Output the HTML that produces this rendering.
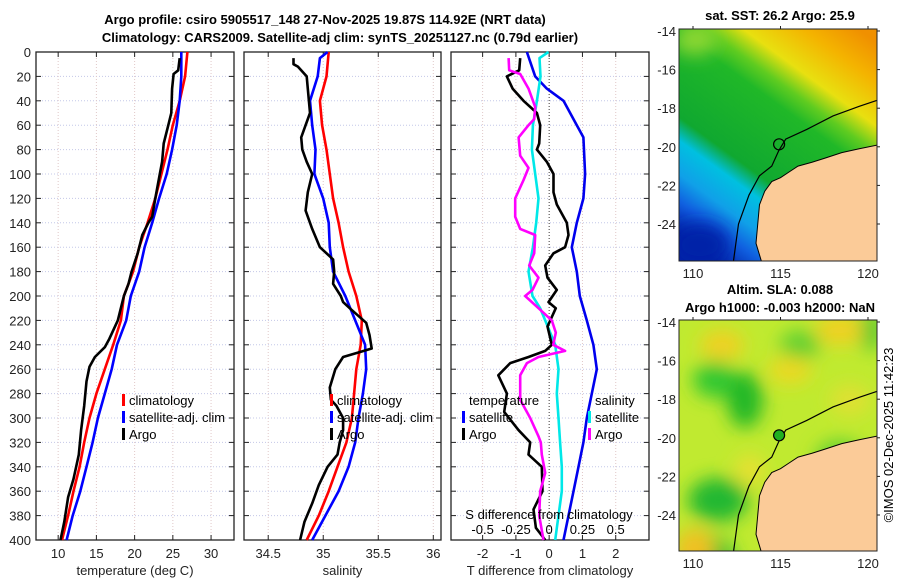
<!DOCTYPE html>
<html><head><meta charset="utf-8"><style>
body{margin:0;background:#fff;width:900px;height:580px;overflow:hidden}
svg{display:block;font-family:"Liberation Sans","DejaVu Sans",sans-serif}
</style></head><body>
<svg id="chart" width="900" height="580" viewBox="0 0 900 580">
<defs>
<linearGradient id="sstg" gradientUnits="userSpaceOnUse" x1="860" y1="30" x2="700" y2="250">
<stop offset="0" stop-color="#f09000"/><stop offset="0.12" stop-color="#f4b400"/><stop offset="0.25" stop-color="#e8e010"/>
<stop offset="0.33" stop-color="#60cc20"/><stop offset="0.4" stop-color="#20b828"/><stop offset="0.65" stop-color="#10a830"/>
<stop offset="0.72" stop-color="#00c0e0"/><stop offset="0.82" stop-color="#10a0e8"/><stop offset="0.9" stop-color="#1060e0"/>
<stop offset="1" stop-color="#0020a8"/></linearGradient>
<filter id="blur"><feGaussianBlur stdDeviation="9"/></filter>
<clipPath id="c1"><rect x="679" y="29" width="198" height="232"/></clipPath>
<clipPath id="c2"><rect x="679" y="320" width="198" height="231"/></clipPath>
</defs>
<g id="titles" font-weight="bold" font-size="13" text-anchor="middle" fill="#000">
<text x="325" y="24">Argo profile: csiro 5905517_148 27-Nov-2025 19.87S 114.92E (NRT data)</text>
<text x="340" y="42">Climatology: CARS2009. Satellite-adj clim: synTS_20251127.nc (0.79d earlier)</text>
<text x="780" y="20">sat. SST: 26.2 Argo: 25.9</text>
<text x="780" y="294">Altim. SLA: 0.088</text>
<text x="780" y="312">Argo h1000: -0.003 h2000: NaN</text>
</g>
<g id="panels"></g>
<g id="maps"></g>
<text transform="translate(893,435) rotate(-90)" font-size="13" text-anchor="middle">©IMOS 02-Dec-2025 11:42:23</text>
</svg>
<script>
// depth tick labels
const depthTicks=[0,20,40,60,80,100,120,140,160,180,200,220,240,260,280,300,320,340,360,380,400];
// panel 1: temperature
const tempTicks=[10,15,20,25,30];
const climTD=[0,20,40,60,80,100,120,140,160,180,200,220,240,260,280,300,320,340,360,380,400];
const climT=[26.9,26.6,25.9,25.0,24.3,23.5,22.7,21.7,20.6,19.8,18.6,18.2,17.2,16.1,15.0,14.1,13.4,12.8,12.0,11.3,10.5];
const satTD=[0,20,40,60,80,100,120,140,160,180,200,220,240,260,280,300,320,340,360,380,400];
const satT=[26.1,26.1,25.9,25.5,24.9,24.2,23.2,22.3,21.3,20.6,19.5,18.9,17.7,17.0,16.1,15.2,14.5,13.7,12.9,11.9,11.1];
const argoTD=[5,15,18,30,50,60,75,90,100,120,135,140,150,165,180,190,200,220,235,242,250,258,270,290,310,330,350,365,385,400];
const argoT=[25.9,25.7,25.1,24.9,24.8,24.4,23.8,23.6,23.3,22.7,22.3,21.8,21.0,20.4,19.6,19.2,18.6,17.8,16.7,16.1,14.8,14.1,13.7,13.4,13.0,12.7,12.0,11.3,10.8,10.3];
// panel 2: salinity
const salTicks=[34.5,35,35.5,36];
const climSD=[0,20,40,60,80,100,120,140,160,180,200,220,240,260,280,300,320,340,360,380,400];
const climS=[35.05,35.03,34.97,34.99,35.03,35.06,35.09,35.14,35.18,35.23,35.30,35.35,35.34,35.30,35.28,35.26,35.21,35.13,35.05,34.96,34.85];
const satSD=[0,5,20,40,60,80,100,110,120,140,160,180,200,220,240,260,280,300,320,340,360,380,400];
const satS=[35.04,34.97,34.95,34.88,34.90,34.93,34.92,34.96,35.00,35.05,35.06,35.09,35.20,35.29,35.38,35.39,35.36,35.32,35.29,35.23,35.14,35.02,34.90];
const argoSD=[5,10,12,20,30,40,50,70,80,90,100,115,130,145,160,170,180,190,200,205,210,222,232,243,246,250,260,275,285,290,300,310,320,330,340,355,370,385,400];
const argoS=[34.73,34.73,34.77,34.85,34.86,34.87,34.88,34.80,34.81,34.85,34.90,34.86,34.84,34.90,34.97,35.09,35.10,35.09,35.16,35.18,35.24,35.39,35.42,35.44,35.33,35.18,35.11,35.06,35.07,35.12,35.18,35.18,35.15,35.13,35.04,34.96,34.90,34.83,34.79];
// panel 3: differences (S diff plotted as S*4)
const tdiffTicks=[-2,-1,0,1,2];
const sdiffLabels=["-0.5","-0.25","0","0.25","0.5"];
const satTdD=[0,20,30,40,60,70,100,120,140,160,180,200,220,240,260,280,300,320,340,360,380,400];
const satTd=[-0.67,-0.42,-0.07,0.43,0.83,1.03,1.08,1.03,0.83,0.68,0.83,0.92,1.13,1.33,1.43,1.28,1.13,1.03,0.88,0.73,0.58,0.43];
const satSdD=[0,5,20,40,60,80,100,120,140,160,180,200,210,220,240,260,280,300,320,340,360,380,400];
const satSd=[-0.02,-0.29,-0.26,-0.37,-0.49,-0.52,-0.42,-0.32,-0.39,-0.49,-0.62,-0.50,-0.27,-0.12,0.18,0.28,0.23,0.28,0.33,0.38,0.38,0.28,0.18];
const argoTdD=[5,15,20,30,40,50,60,75,80,90,100,115,125,140,150,160,165,175,185,195,205,210,225,240,245,250,255,265,280,295,310,320,330,340,360,375,390,400];
const argoTd=[-0.87,-0.9,-1.27,-1.1,-0.77,-0.37,-0.27,-0.3,-0.37,-0.07,0.13,0.13,0.23,0.53,0.58,0.48,0.13,-0.12,-0.05,0.23,-0.02,0.2,-0.05,0.08,-0.12,-0.62,-1.17,-1.53,-1.27,-1.35,-0.92,-0.57,-0.62,-0.22,-0.2,-0.47,-0.4,-0.12];
const argoSdD=[5,15,18,30,45,55,60,70,85,95,105,120,135,145,150,165,175,185,195,200,210,220,230,240,245,250,255,265,285,300,315,320,330,345,360,380,400];
const argoSd=[-1.22,-1.2,-0.87,-0.62,-0.42,-0.45,-0.62,-0.92,-0.87,-0.62,-0.77,-1.02,-1.02,-0.87,-0.42,-0.45,-0.6,-0.32,-0.5,-0.72,-0.32,0.08,0.2,0.12,0.48,-0.32,-0.67,-0.87,-0.87,-0.57,-0.32,-0.25,-0.22,-0.12,-0.27,-0.3,-0.17];

const NS='http://www.w3.org/2000/svg';
function mk(tag,attrs,parent){const e=document.createElementNS(NS,tag);for(const k in attrs)e.setAttribute(k,attrs[k]);parent.appendChild(e);return e;}
const top0=52,bot=540;
const yD=d=>top0+d*(bot-top0)/400;
const P=document.getElementById('panels');
const panels=[
 {x0:36,x1:234,min:7.1,max:33.0,ticks:tempTicks,label:'temperature (deg C)',name:'temperature'},
 {x0:244,x1:441,min:34.28,max:36.07,ticks:salTicks,label:'salinity',name:'salinity'},
 {x0:451,x1:649,min:-2.95,max:3.0,ticks:tdiffTicks,label:'T difference from climatology',name:'difference'}];
panels.forEach(p=>{p.sx=v=>p.x0+(v-p.min)*(p.x1-p.x0)/(p.max-p.min);});
panels.forEach((p,i)=>{
 const g=mk('g',{},P);
 
 
 depthTicks.forEach(d=>{
  const l=mk('line',{x1:p.x0,x2:p.x1,y1:yD(d),y2:yD(d),stroke:'#c4c8e8','stroke-width':1,'stroke-dasharray':'1,2'},g);
  
  
  mk('line',{x1:p.x0,x2:p.x0+5,y1:yD(d),y2:yD(d),stroke:'#222'},g);
  mk('line',{x1:p.x1-5,x2:p.x1,y1:yD(d),y2:yD(d),stroke:'#222'},g);
  if(i===0){const t=mk('text',{x:31,y:yD(d)+5,'font-size':13,'text-anchor':'end',fill:'#222'},g);t.textContent=d;
   
   }
 });
 p.ticks.forEach(v=>{
  const x=p.sx(v);
  mk('line',{x1:x,x2:x,y1:top0,y2:bot,stroke:'#e0c8c8','stroke-width':1,'stroke-dasharray':'1,2'},g);
  mk('line',{x1:x,x2:x,y1:bot-5,y2:bot,stroke:'#222'},g);
  mk('line',{x1:x,x2:x,y1:top0,y2:top0+5,stroke:'#222'},g);
  const t=mk('text',{x:x,y:558,'font-size':13,'text-anchor':'middle',fill:'#222'},g);t.textContent=v;
  
  
 });
 const xl=mk('text',{x:(p.x0+p.x1)/2,y:575,'font-size':13,'text-anchor':'middle',fill:'#222'},g);xl.textContent=p.label;
 
 
 mk('rect',{x:p.x0,y:top0,width:p.x1-p.x0,height:bot-top0,fill:'none',stroke:'#222','stroke-width':1.3},g);
});
function series(p,vals,deps,color,name){
 const pts=vals.map((v,k)=>p.sx(v).toFixed(1)+','+yD(deps[k]).toFixed(1)).join(' ');
 const l=mk('polyline',{points:pts,fill:'none',stroke:color,'stroke-width':2.6,'stroke-linejoin':'round'},P);
 
 
}
mk('line',{x1:panels[2].sx(0),x2:panels[2].sx(0),y1:top0,y2:bot,stroke:'#444','stroke-dasharray':'1,2'},P);
series(panels[0],climT,climTD,'#ff0000','temp-climatology-line');
series(panels[0],satT,satTD,'#0000ff','temp-satellite-line');
series(panels[0],argoT,argoTD,'#000','temp-argo-line');
series(panels[1],climS,climSD,'#ff0000','sal-climatology-line');
series(panels[1],satS,satSD,'#0000ff','sal-satellite-line');
series(panels[1],argoS,argoSD,'#000','sal-argo-line');
series(panels[2],satTd,satTdD,'#0000ee','tdiff-satellite-line');
series(panels[2],satSd,satSdD,'#00e8e8','sdiff-satellite-line');
series(panels[2],argoTd,argoTdD,'#000','tdiff-argo-line');
series(panels[2],argoSd,argoSdD,'#ff00ff','sdiff-argo-line');
{const g=mk('g',{'font-size':13,fill:'#000','text-anchor':'middle'},P);
 const t=mk('text',{x:549,y:519},g);t.textContent='S difference from climatology';
 
 
 sdiffLabels.forEach((s,k)=>{const tt=mk('text',{x:panels[2].sx(tdiffTicks[k]),y:534},g);tt.textContent=s;
  
  });}
function legend(x,y,items,head){
 const g=mk('g',{'font-size':13},P);
 
 
 if(head){const h=mk('text',{x:x+7,y:y+5},g);h.textContent=head;y+=17;}
 items.forEach(([c,t])=>{
  const e=mk('g',{},g);
  
  
  mk('rect',{x:x,y:y-6,width:3,height:12,fill:c},e);
  const tx=mk('text',{x:x+7,y:y+5},e);tx.textContent=t;y+=17;
 });
}
const L3=[['#ff0000','climatology'],['#0000ff','satellite-adj. clim'],['#000','Argo']];
legend(122,400,L3);legend(330,400,L3);
legend(462,400,[['#0000ff','satellite'],['#000','Argo']],'temperature');
legend(588,400,[['#00e8e8','satellite'],['#ff00ff','Argo']],'salinity');

const M=document.getElementById('maps');
const coast=[[120.6,-19.9],[119.5,-20.1],[118.5,-20.3],[117.5,-20.6],[116.8,-20.8],[116,-21.0],[115.5,-21.3],[115,-21.6],[114.5,-21.8],[114.1,-22.3],[113.8,-23],[113.7,-24],[113.6,-25],[114,-26.2],[120.6,-26.2]];
const shelf=[[120.5,-17.6],[119.5,-17.9],[118,-18.4],[116.5,-19.1],[115.3,-19.6],[114.9,-20.2],[114.5,-21],[113.8,-21.5],[113.2,-22.5],[112.6,-24],[112.3,-26]];
function drawMap(top,bottom,latTop,clip,bgFn,name,filledCircle){
 const sx=lon=>679+(lon-109.2)*17.5, sy=lat=>latTop+(-14-lat)*19.3;
 const g=mk('g',{'clip-path':'url(#'+clip+')'},M);
 
 
 bgFn(g);
 mk('polygon',{points:coast.map(p=>sx(p[0])+','+sy(p[1])).join(' '),fill:'#fbcb98',stroke:'#000','stroke-width':1},g);
 mk('polyline',{points:shelf.map(p=>sx(p[0])+','+sy(p[1])).join(' '),fill:'none',stroke:'#000','stroke-width':1.2},g);
 const c=mk('circle',{cx:sx(114.92),cy:sy(-19.87),r:5.5,fill:filledCircle?'#20b020':'none',stroke:'#000','stroke-width':1.2},M);
 
 
 mk('rect',{x:679,y:top,width:198,height:bottom-top,fill:'none',stroke:'#222'},M);
 [-14,-16,-18,-20,-22,-24].forEach(lat=>{
  mk('line',{x1:877,x2:880,y1:sy(lat),y2:sy(lat),stroke:'#222'},M);
  const t=mk('text',{x:676,y:sy(lat)+5,'font-size':13,'text-anchor':'end',fill:'#222'},M);t.textContent=lat;
  
  
 });
 [110,115,120].forEach(lon=>{
  const t=mk('text',{x:sx(lon),y:bottom+17,'font-size':13,'text-anchor':'middle',fill:'#222'},M);t.textContent=lon;
  
  
  mk('line',{x1:sx(lon),x2:sx(lon),y1:top-3,y2:top,stroke:'#222'},M);
 });
}
drawMap(29,261,31,'c1',g=>{
 mk('rect',{x:679,y:29,width:198,height:232,fill:'url(#sstg)'},g);
 const b=mk('g',{filter:'url(#blur)'},g);
 mk('ellipse',{cx:695,cy:40,rx:22,ry:15,fill:'#90d830'},b);
 mk('ellipse',{cx:700,cy:245,rx:30,ry:22,fill:'#0020a8'},b);
},'sst-map',false);
drawMap(320,551,322,'c2',g=>{
 mk('rect',{x:679,y:320,width:198,height:231,fill:'#c0ea30'},g);
 const b=mk('g',{filter:'url(#blur)'},g);
 [[715,380,22,18,'#30c830'],[745,400,18,28,'#20b828'],[718,500,30,22,'#20b830'],[800,345,20,15,'#60d030'],[840,460,25,20,'#60d030'],[710,560,25,25,'#30c030'],[870,330,12,20,'#40c830']].forEach(e=>mk('ellipse',{cx:e[0],cy:e[1],rx:e[2],ry:e[3],fill:e[4]},b));
 [[722,345,22,15,'#f0d020'],[790,370,22,14,'#ecd820'],[840,330,25,15,'#f0d020'],[695,550,20,22,'#f0c020'],[750,470,15,15,'#e8e030'],[850,400,20,15,'#e0e030']].forEach(e=>mk('ellipse',{cx:e[0],cy:e[1],rx:e[2],ry:e[3],fill:e[4]},b));
},'sla-map',true);
</script>
</body></html>
